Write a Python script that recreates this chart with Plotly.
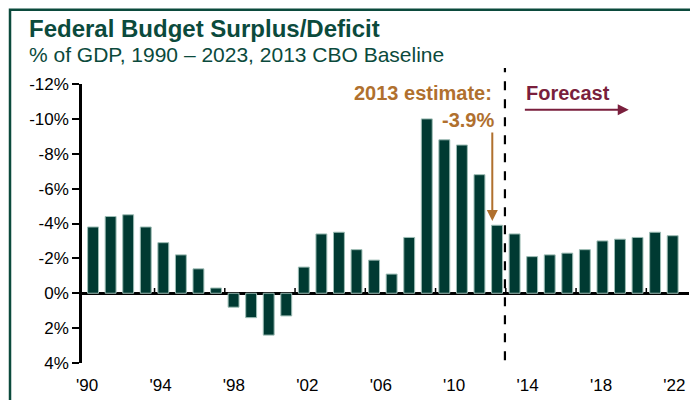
import plotly.graph_objects as go

# Federal budget surplus(+)/deficit(-), % of GDP; 2014 onward is the 2013 CBO forecast
years = list(range(1990, 2024))
balance = [-3.8, -4.4, -4.5, -3.8, -2.9, -2.2, -1.4, -0.3, 0.8, 1.4,
           2.4, 1.3, -1.5, -3.4, -3.5, -2.5, -1.9, -1.1, -3.2, -10.0,
           -8.8, -8.5, -6.8, -3.9, -3.4, -2.1, -2.2, -2.3, -2.5, -3.0,
           -3.1, -3.2, -3.5, -3.3]

x_labels = ["'90", "'94", "'98", "'02", "'06", "'10", "'14", "'18", "'22"]
y_ticks = [-12, -10, -8, -6, -4, -2, 0, 2, 4]
y_labels = ["-12%", "-10%", "-8%", "-6%", "-4%", "-2%", "0%", "2%", "4%"]

BAR = "#003a32"
TITLE = "#0b4a3c"
ORANGE = "#b0702e"
MAROON = "#7a1f3d"
FONT = "Liberation Sans, Arial, sans-serif"

fig = go.Figure(go.Bar(
    x=years, y=balance,
    marker=dict(color=BAR, line=dict(color="#9dbdb5", width=1)),
    width=0.62,
))

# labels drift a little against the bars in the original
label_pos = [1989.66 + i * 4.18 for i in range(len(x_labels))]

fig.update_xaxes(
    range=[1989.37, 2023.93], tickvals=label_pos, ticktext=x_labels,
    showline=False, showgrid=False, zeroline=False, ticks="", automargin=False,
    ticklabelstandoff=10, tickfont=dict(size=17, color="black", family=FONT),
)
fig.update_yaxes(
    range=[4, -12], tickvals=y_ticks, ticktext=y_labels, automargin=False,
    showline=True, linecolor="black", linewidth=2.5,
    ticks="outside", ticklen=7, tickwidth=2, tickcolor="black",
    showgrid=False, zeroline=True, zerolinecolor="black", zerolinewidth=2.5,
    tickfont=dict(size=17, color="black", family=FONT),
)

shapes = []
# small ticks along the zero line between groups of years
for b in range(1993, 2023, 4):
    shapes.append(dict(type="line", xref="x", yref="y", x0=b + 0.5, x1=b + 0.5,
                       y0=0, y1=-0.3, line=dict(color="black", width=1.5)))
# forecast divider
shapes.append(dict(type="line", xref="x", yref="paper", x0=2013.45, x1=2013.45,
                   y0=0.01, y1=1.057, line=dict(color="black", width=2.2, dash="dash")))
# frame
shapes.append(dict(type="rect", xref="paper", yref="paper", x0=-0.1186, x1=1.08,
                   y0=-0.3, y1=1.266, line=dict(color=TITLE, width=2.5)))

annotations = [
    dict(text="<b>Federal Budget Surplus/Deficit</b>", xref="paper", yref="paper",
         x=-0.0906, y=1.2007, xanchor="left", yanchor="middle", showarrow=False,
         font=dict(size=24, color=TITLE, family=FONT)),
    dict(text="% of GDP, 1990 – 2023, 2013 CBO Baseline", xref="paper", yref="paper",
         x=-0.0906, y=1.104, xanchor="left", yanchor="middle", showarrow=False,
         font=dict(size=21, color=TITLE, family=FONT)),
    dict(text="<b>2013 estimate:</b>", xref="x", yref="paper", x=2012.8, y=0.968,
         xanchor="right", yanchor="middle", showarrow=False,
         font=dict(size=20, color=ORANGE, family=FONT)),
    dict(text="<b>-3.9%</b>", xref="x", yref="paper", x=2012.95, y=0.871,
         xanchor="right", yanchor="middle", showarrow=False,
         font=dict(size=20, color=ORANGE, family=FONT)),
    dict(text="", xref="x", yref="y", x=2012.73, y=-4.15, axref="x", ayref="y",
         ax=2012.73, ay=-9.3, showarrow=True, arrowhead=2, arrowsize=1.1,
         arrowwidth=2, arrowcolor=ORANGE),
    dict(text="<b>Forecast</b>", xref="x", yref="paper", x=2014.55, y=0.968,
         xanchor="left", yanchor="middle", showarrow=False,
         font=dict(size=20, color=MAROON, family=FONT)),
    dict(text="", xref="x", yref="y", x=2020.5, y=-10.52, axref="x", ayref="y",
         ax=2014.5, ay=-10.52, showarrow=True, arrowhead=2, arrowsize=1.1,
         arrowwidth=2, arrowcolor=MAROON),
]

# the page body adds an 8px offset, so the figure is 8px smaller each way
fig.update_layout(
    width=690, height=392,
    margin=dict(l=74, r=9, t=76, b=37),
    paper_bgcolor="white", plot_bgcolor="white",
    showlegend=False, shapes=shapes, annotations=annotations,
    font=dict(family=FONT),
)

fig.write_html("out.html")
